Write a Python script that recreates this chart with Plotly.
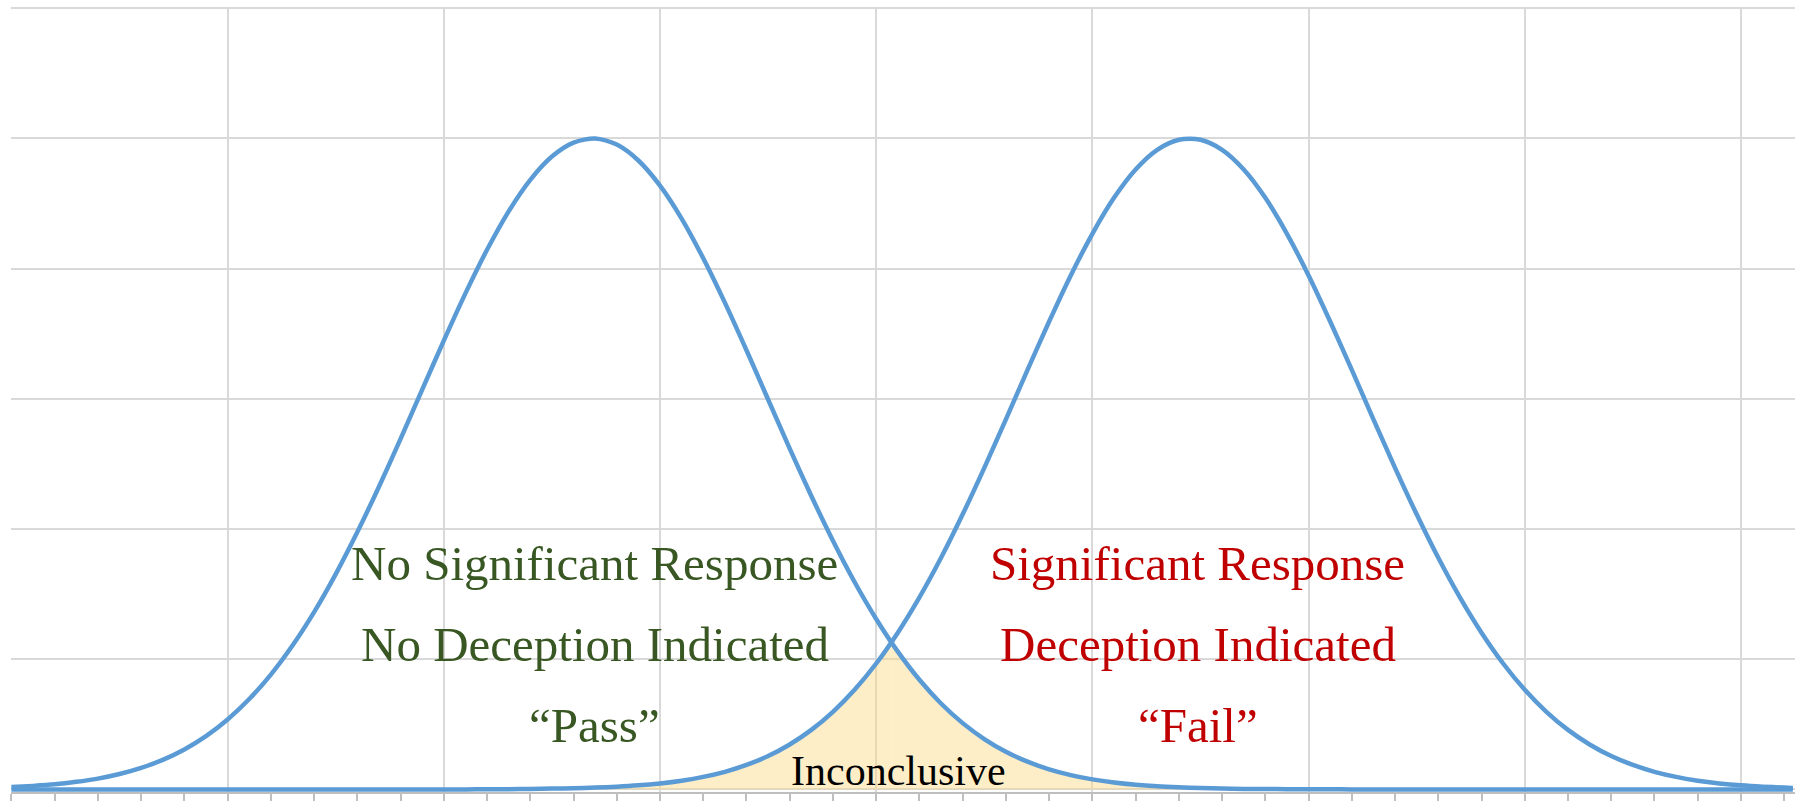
import plotly.graph_objects as go

# ---- data (x in major-grid units, y in grid units) ----
x_values = [0.0, 0.1, 0.2, 0.3, 0.4, 0.5, 0.6, 0.7, 0.8, 0.9,
            1.0, 1.1, 1.2, 1.3, 1.4, 1.5, 1.6, 1.7, 1.8, 1.9,
            2.0, 2.1, 2.2, 2.3, 2.4, 2.5, 2.6, 2.7, 2.8, 2.9,
            3.0, 3.1, 3.2, 3.3, 3.4, 3.5, 3.6, 3.7, 3.8, 3.9,
            4.0, 4.1, 4.2, 4.3, 4.4, 4.5, 4.6, 4.7, 4.8, 4.9,
            5.0, 5.1, 5.2, 5.3, 5.4, 5.5, 5.6, 5.7, 5.8, 5.9,
            6.0, 6.1, 6.2, 6.3, 6.4, 6.5, 6.6, 6.7, 6.8, 6.9,
            7.0, 7.1, 7.2, 7.3, 7.4, 7.5, 7.6, 7.7, 7.8, 7.9,
            8.0, 8.1, 8.2, 8.24]

no_deception = [0.018, 0.027, 0.039, 0.058, 0.083, 0.118, 0.165, 0.227, 0.307, 0.409,
                0.537, 0.694, 0.882, 1.105, 1.362, 1.654, 1.977, 2.325, 2.693, 3.071,
                3.447, 3.810, 4.145, 4.440, 4.682, 4.861, 4.968, 5.000, 4.953, 4.831,
                4.638, 4.385, 4.080, 3.739, 3.373, 2.995, 2.618, 2.254, 1.910, 1.593,
                1.309, 1.058, 0.842, 0.660, 0.509, 0.387, 0.289, 0.213, 0.154, 0.110,
                0.077, 0.053, 0.036, 0.024, 0.016, 0.010, 0.007, 0.004, 0.003, 0.002,
                0.001, 0.001, 0.0, 0.0, 0.0, 0.0, 0.0, 0.0, 0.0, 0.0,
                0.0, 0.0, 0.0, 0.0, 0.0, 0.0, 0.0, 0.0, 0.0, 0.0,
                0.0, 0.0, 0.0, 0.0]

deception = [0.0, 0.0, 0.0, 0.0, 0.0, 0.0, 0.0, 0.0, 0.0, 0.0,
             0.0, 0.0, 0.0, 0.0, 0.0, 0.0, 0.0, 0.0, 0.0, 0.0,
             0.0, 0.0, 0.001, 0.002, 0.003, 0.006, 0.009, 0.014, 0.021, 0.031,
             0.046, 0.067, 0.096, 0.135, 0.188, 0.256, 0.345, 0.457, 0.596, 0.765,
             0.967, 1.204, 1.475, 1.779, 2.113, 2.470, 2.843, 3.222, 3.594, 3.948,
             4.268, 4.544, 4.762, 4.913, 4.990, 4.990, 4.913, 4.762, 4.544, 4.268,
             3.948, 3.594, 3.222, 2.843, 2.470, 2.113, 1.779, 1.475, 1.204, 0.967,
             0.765, 0.596, 0.457, 0.345, 0.256, 0.188, 0.135, 0.096, 0.067, 0.046,
             0.031, 0.021, 0.014, 0.010]

crossing_x = 4.07
crossing_y = 1.133

left_labels = ["No Significant Response", "No Deception Indicated", "\u201cPass\u201d"]
right_labels = ["Significant Response", "Deception Indicated", "\u201cFail\u201d"]
middle_label = "Inconclusive"

# ---- styles ----
BLUE = "#5B9BD5"
GRID = "#D9D9D9"
GREEN = "#385723"
RED = "#C00000"
FILL = "rgba(250, 218, 130, 0.45)"
FONT = "Liberation Serif"

fig = go.Figure()

# Inconclusive area: under the lower of the two curves
seg_a = [(x, y) for x, y in zip(x_values, deception) if 2.2 <= x < crossing_x]
seg_b = [(x, y) for x, y in zip(x_values, no_deception) if crossing_x < x <= 6.2]
seg_a_x = [p[0] for p in seg_a] + [crossing_x]
seg_a_y = [p[1] for p in seg_a] + [crossing_y]
seg_b_x = [crossing_x] + [p[0] for p in seg_b]
seg_b_y = [crossing_y] + [p[1] for p in seg_b]

for sx, sy in ((seg_a_x, seg_a_y), (seg_b_x, seg_b_y)):
    fig.add_trace(go.Scatter(
        x=sx, y=sy, mode="lines", fill="tozeroy", fillcolor=FILL,
        line=dict(width=0, shape="spline", smoothing=0.8),
        hoverinfo="skip", showlegend=False))

for series in (no_deception, deception):
    fig.add_trace(go.Scatter(
        x=x_values, y=series, mode="lines",
        line=dict(color=BLUE, width=4.5, shape="spline", smoothing=0.8),
        showlegend=False))

row_y = [1.732, 1.111, 0.493]
annotations = []
for txt, yy in zip(left_labels, row_y):
    annotations.append(dict(x=2.698, y=yy, text=txt, showarrow=False,
                            xanchor="center", yanchor="middle",
                            font=dict(family=FONT, size=49, color=GREEN)))
for txt, yy in zip(right_labels, row_y):
    annotations.append(dict(x=5.487, y=yy, text=txt, showarrow=False,
                            xanchor="center", yanchor="middle",
                            font=dict(family=FONT, size=49, color=RED)))
annotations.append(dict(x=4.104, y=0.14, text=middle_label, showarrow=False,
                        xanchor="center", yanchor="middle",
                        font=dict(family=FONT, size=42, color="#000000")))

fig.update_layout(
    width=1802, height=806,
    margin=dict(l=11, r=7, t=7, b=8, pad=0),
    paper_bgcolor="white", plot_bgcolor="white",
    annotations=annotations,
    showlegend=False,
    xaxis=dict(range=[-0.002, 8.25], tick0=0, dtick=1,
               showgrid=True, gridcolor=GRID, gridwidth=2,
               zeroline=False, showticklabels=False,
               showline=True, linecolor="#BFBFBF", linewidth=2,
               ticks="outside", ticklen=7, tickcolor="#BFBFBF", tickwidth=2,
               minor=dict(dtick=0.2, tick0=0, ticks="outside", ticklen=7,
                          tickcolor="#BFBFBF", tickwidth=2, showgrid=False)),
    yaxis=dict(range=[-0.02, 6.01], tick0=0, dtick=1,
               showgrid=True, gridcolor=GRID, gridwidth=2,
               zeroline=False, showticklabels=False, showline=False,
               ticks=""),
)

fig.write_html("out.html", config={"displayModeBar": False},
               post_script="document.body.style.margin='0';")
